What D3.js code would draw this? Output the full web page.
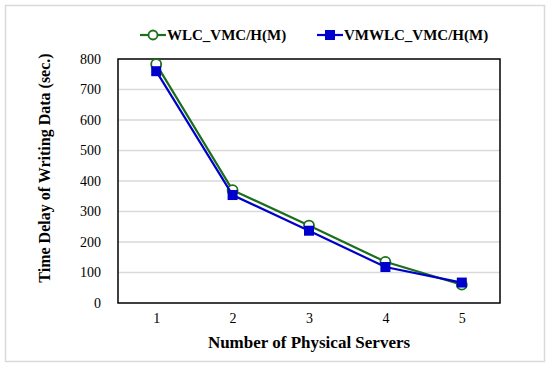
<!DOCTYPE html>
<html>
<head>
<meta charset="utf-8">
<script src="https://cdn.jsdelivr.net/npm/d3@7"></script>
<style>
  body { margin: 0; background: #fff; }
  svg text { fill: #000; }
</style>
</head>
<body>
<div id="chart"></div>
<script>
const servers = ["1", "2", "3", "4", "5"];
const wlcValues = [783, 370, 254, 135, 60];
const vmwlcValues = [760, 354, 237, 118, 67];
const yTicks = [0, 100, 200, 300, 400, 500, 600, 700, 800];
const seriesNames = ["WLC_VMC/H(M)", "VMWLC_VMC/H(M)"];

const width = 550;
const height = 369;
const marginTop = 59;
const marginRight = 50;
const marginBottom = 66;
const marginLeft = 118;

const green = "#1b6e1b";
const blue = "#0000cc";
const serif = '"Liberation Serif", "Times New Roman", serif';

const svg = d3.select("#chart").append("svg")
    .attr("width", width)
    .attr("height", height)
    .attr("font-family", serif);

// outer frame
svg.append("rect")
    .attr("x", 5.5).attr("y", 5.5)
    .attr("width", 539).attr("height", 356)
    .attr("fill", "#fff")
    .attr("stroke", "#d9d9d9")
    .attr("stroke-width", 1.5);

const x = d3.scalePoint()
    .domain(servers)
    .range([marginLeft, width - marginRight])
    .padding(0.5);

const y = d3.scaleLinear()
    .domain([0, 800])
    .range([height - marginBottom, marginTop]);

// gridlines
svg.append("g")
    .selectAll("line")
    .data(yTicks.slice(1, -1))
    .join("line")
    .attr("x1", marginLeft)
    .attr("x2", width - marginRight)
    .attr("y1", d => y(d))
    .attr("y2", d => y(d))
    .attr("stroke", "#d9d9d9")
    .attr("stroke-width", 1.3);

// y axis labels
svg.append("g")
    .attr("transform", `translate(${marginLeft},0)`)
    .call(d3.axisLeft(y).tickValues(yTicks).tickSize(0).tickPadding(17))
    .attr("font-family", serif)
    .attr("font-size", 14)
    .call(g => g.select(".domain").remove());

// x axis labels
svg.append("g")
    .attr("transform", `translate(0,${height - marginBottom})`)
    .call(d3.axisBottom(x).tickSize(0).tickPadding(10))
    .attr("font-family", serif)
    .attr("font-size", 14)
    .call(g => g.select(".domain").remove());

// plot border
svg.append("rect")
    .attr("x", marginLeft)
    .attr("y", marginTop)
    .attr("width", width - marginLeft - marginRight)
    .attr("height", height - marginTop - marginBottom)
    .attr("fill", "none")
    .attr("stroke", "#000")
    .attr("stroke-width", 1.5);

const line = d3.line()
    .x((d, i) => x(servers[i]))
    .y(d => y(d));

// WLC series
svg.append("path")
    .datum(wlcValues)
    .attr("fill", "none")
    .attr("stroke", green)
    .attr("stroke-width", 2.2)
    .attr("d", line);

svg.append("g")
    .selectAll("circle")
    .data(wlcValues)
    .join("circle")
    .attr("cx", (d, i) => x(servers[i]))
    .attr("cy", d => y(d))
    .attr("r", 5)
    .attr("fill", "#fff")
    .attr("stroke", green)
    .attr("stroke-width", 1.8);

// VMWLC series
svg.append("path")
    .datum(vmwlcValues)
    .attr("fill", "none")
    .attr("stroke", blue)
    .attr("stroke-width", 2.2)
    .attr("d", line);

svg.append("g")
    .selectAll("rect")
    .data(vmwlcValues)
    .join("rect")
    .attr("x", (d, i) => x(servers[i]) - 5)
    .attr("y", d => y(d) - 5)
    .attr("width", 10)
    .attr("height", 10)
    .attr("fill", blue);

// legend
const legend = svg.append("g").attr("transform", "translate(0,35)");
const legendX = [140, 317];

legend.selectAll("line")
    .data(seriesNames)
    .join("line")
    .attr("x1", (d, i) => legendX[i])
    .attr("x2", (d, i) => legendX[i] + 26)
    .attr("stroke", (d, i) => i === 0 ? green : blue)
    .attr("stroke-width", 2.2);

legend.append("circle")
    .attr("cx", legendX[0] + 13)
    .attr("r", 4.5)
    .attr("fill", "#fff")
    .attr("stroke", green)
    .attr("stroke-width", 1.8);

legend.append("rect")
    .attr("x", legendX[1] + 8)
    .attr("y", -5)
    .attr("width", 10)
    .attr("height", 10)
    .attr("fill", blue);

legend.selectAll("text")
    .data(seriesNames)
    .join("text")
    .attr("x", (d, i) => legendX[i] + 27)
    .attr("dy", "0.35em")
    .attr("font-size", 15)
    .attr("font-weight", "bold")
    .text(d => d);

// axis titles
svg.append("text")
    .attr("x", (marginLeft + width - marginRight) / 2)
    .attr("y", 348)
    .attr("text-anchor", "middle")
    .attr("font-size", 17)
    .attr("font-weight", "bold")
    .text("Number of Physical Servers");

svg.append("text")
    .attr("transform", "rotate(-90)")
    .attr("x", -168)
    .attr("y", 50)
    .attr("text-anchor", "middle")
    .attr("font-size", 16)
    .attr("font-weight", "bold")
    .text("Time Delay of Writing Data (sec.)");
</script>
</body>
</html>
